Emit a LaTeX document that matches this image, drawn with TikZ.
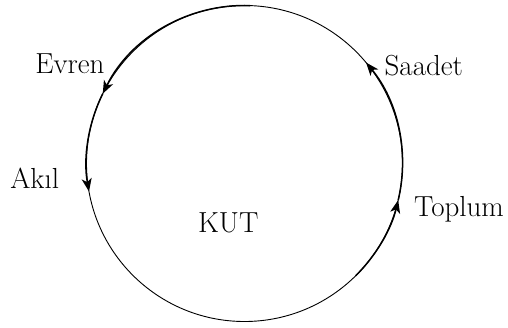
\documentclass[tikz,border=0pt]{standalone}
\usepackage{fontspec}
\usetikzlibrary{arrows.meta}
\begin{document}
\begin{tikzpicture}[x=1pt,y=1pt,
  lbl/.style={font=\fontsize{29}{34}\selectfont, anchor=base, inner sep=0pt, text=black},
  flow/.style={line width=1.5pt, -{Stealth[length=13pt,width=10pt,inset=3.5pt]}},
  ring/.style={line width=0.9pt}]
\useasboundingbox (0,0) rectangle (508,327);
\coordinate (c) at (244.5,163.5);
\draw[ring] (c) circle[radius=158];
% named points on the circle
\coordinate (top) at ([shift={(88:158)}]c);
\coordinate (ev) at ([shift={(153.8:158)}]c);
\coordinate (ak) at ([shift={(190.2:158)}]c);
\coordinate (bot) at ([shift={(-45.3:158)}]c);
\coordinate (tp) at ([shift={(-13.4:158)}]c);
\coordinate (sa) at ([shift={(39.7:158)}]c);
% arrow arcs
\draw[flow] (top) arc[start angle=88, end angle=153.8, radius=158];
\draw[flow] (ev) arc[start angle=153.8, end angle=190.2, radius=158];
\draw[flow] (bot) arc[start angle=-45.3, end angle=-13.4, radius=158];
\draw[flow] (tp) arc[start angle=-13.4, end angle=39.7, radius=158];
% labels
\node[lbl] (evren) at (69.9,253) {Evren};
\node[lbl] (akil) at (34.7,138.5) {Akıl};
\node[lbl] (saadet) at (423.8,251) {Saadet};
\node[lbl] (toplum) at (459,110.3) {Toplum};
\node[lbl] (kut) at (228.3,94.7) {KUT};
\end{tikzpicture}
\end{document}
